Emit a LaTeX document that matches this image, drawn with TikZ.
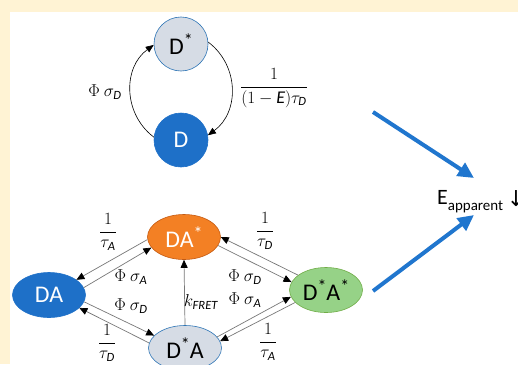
\documentclass[tikz,border=0pt]{standalone}
\usepackage{amsmath}
\usepackage[no-math]{fontspec}
\setmainfont{Carlito}
\newfontfamily\djv{DejaVu Sans}
\usetikzlibrary{shapes.geometric,arrows.meta,calc}
\definecolor{cream}{RGB}{255,243,212}
\definecolor{dblue}{RGB}{30,112,200}
\definecolor{lgray}{RGB}{214,220,229}
\definecolor{edgeblue}{RGB}{46,117,182}
\definecolor{orng}{RGB}{243,128,36}
\definecolor{orngedge}{RGB}{197,90,17}
\definecolor{grn}{RGB}{150,210,135}
\definecolor{grnedge}{RGB}{112,173,71}
\definecolor{arrblue}{RGB}{32,118,206}
\definecolor{lgrey}{RGB}{120,120,120}
\newcommand\sbs[1]{\text{\itshape #1}}
\newcommand\str{\raisebox{8bp}{\fontsize{18}{18}\selectfont *}}
\begin{document}
\begin{tikzpicture}[x=1bp,y=1bp,
 state/.style={inner sep=0, line width=0.6bp, font=\fontsize{24}{24}\selectfont},
 circ/.style={state, circle, minimum size=54bp},
 ell/.style={state, ellipse, minimum width=73bp, minimum height=45bp},
 dark/.style={fill=dblue, draw=dblue, text=white},
 light/.style={fill=lgray, draw=edgeblue, text=black},
 orange/.style={fill=orng, draw=orngedge, text=white},
 green/.style={fill=grn, draw=grnedge, text=black},
 arc/.style={draw=black, line width=0.6bp, -{Triangle[length=8bp,width=6.5bp]}},
 trans/.style={draw=lgrey, line width=0.7bp, -{Triangle[length=8bp,width=7bp,color=black]}},
 big/.style={draw=arrblue, line width=4bp, -{Triangle[length=16bp,width=15bp]}},
 lab/.style={inner sep=0, font=\fontsize{18}{21}\selectfont}
]
\useasboundingbox (0,0) rectangle (518,364);
\clip (0,0) rectangle (518,364);
\fill[cream] (0,0) rectangle (518,364);
\fill[white] (10,0) rectangle (518,352);

% top cycle
\node[circ, light] (Ds) at (181,320) {D\str};
\node[circ, dark] (D) at (181,224) {D};
\draw[arc] (D.174) to[out=143,in=216,looseness=1.07] (Ds.182);
\draw[arc] (Ds.4) to[out=-37,in=36,looseness=1.07] (D.10);
\node[lab] (l1) at (105,272) {$\Phi\ \sigma_{\sbs{D}}$};
\node[lab] (l2) at (274,276) {$\dfrac{1}{(1-\sbs{E})\tau_{\sbs{D}}}$};

% bottom network
\node[ell, dark] (DA) at (49,69) {DA};
\node[ell, orange] (DAs) at (184,127) {DA\str};
\node[ell, green] (DsAs) at (326,74) {D\str A\str};
\node[ell, light] (DsA) at (185,16) {D\str A};

\draw[trans] (DAs.184) -- (DA.29);
\draw[trans] (DA.12) -- (DAs.198);
\draw[trans] (DsAs.152) -- (DAs.0);
\draw[trans] (DAs.-14) -- (DsAs.167);
\draw[trans] (DA.-11) -- (DsA.158);
\draw[trans] (DsA.172) -- (DA.-23);
\draw[trans] (DsA.19) -- (DsAs.191);
\draw[trans] (DsAs.202) -- (DsA.11);
\draw[trans] (DsA.north) -- (DAs.south);

\node[lab] (k1) at (108,132) {$\dfrac{1}{\tau_{\sbs{A}}}$};
\node[lab] (k2) at (131,87) {$\Phi\ \sigma_{\sbs{A}}$};
\node[lab] (k3) at (265,133) {$\dfrac{1}{\tau_{\sbs{D}}}$};
\node[lab] (k4) at (245,87) {$\Phi\ \sigma_{\sbs{D}}$};
\node[lab] (k5) at (131,58) {$\Phi\ \sigma_{\sbs{D}}$};
\node[lab] (k6) at (107,21) {$\dfrac{1}{\tau_{\sbs{D}}}$};
\node[lab] (k7) at (201,62) {$k_{\sbs{FRET}}$};
\node[lab] (k8) at (245,64) {$\Phi\ \sigma_{\sbs{A}}$};
\node[lab] (k9) at (268,22) {$\dfrac{1}{\tau_{\sbs{A}}}$};

% apparent efficiency
\coordinate (a1) at (373,252); \coordinate (t1) at (474,186);
\coordinate (a2) at (373,73); \coordinate (t2) at (474,149);
\draw[big] (a1) -- (t1);
\draw[big] (a2) -- (t2);
\node[anchor=base west, inner sep=0, font=\fontsize{22}{22}\selectfont] (E) at (437,160) {E\raisebox{-6bp}{\fontsize{15}{15}\selectfont apparent}};
\node[anchor=base, inner sep=0, font=\djv\fontsize{22}{22}\selectfont] (dn) at (516,158) {↓};
\end{tikzpicture}
\end{document}
